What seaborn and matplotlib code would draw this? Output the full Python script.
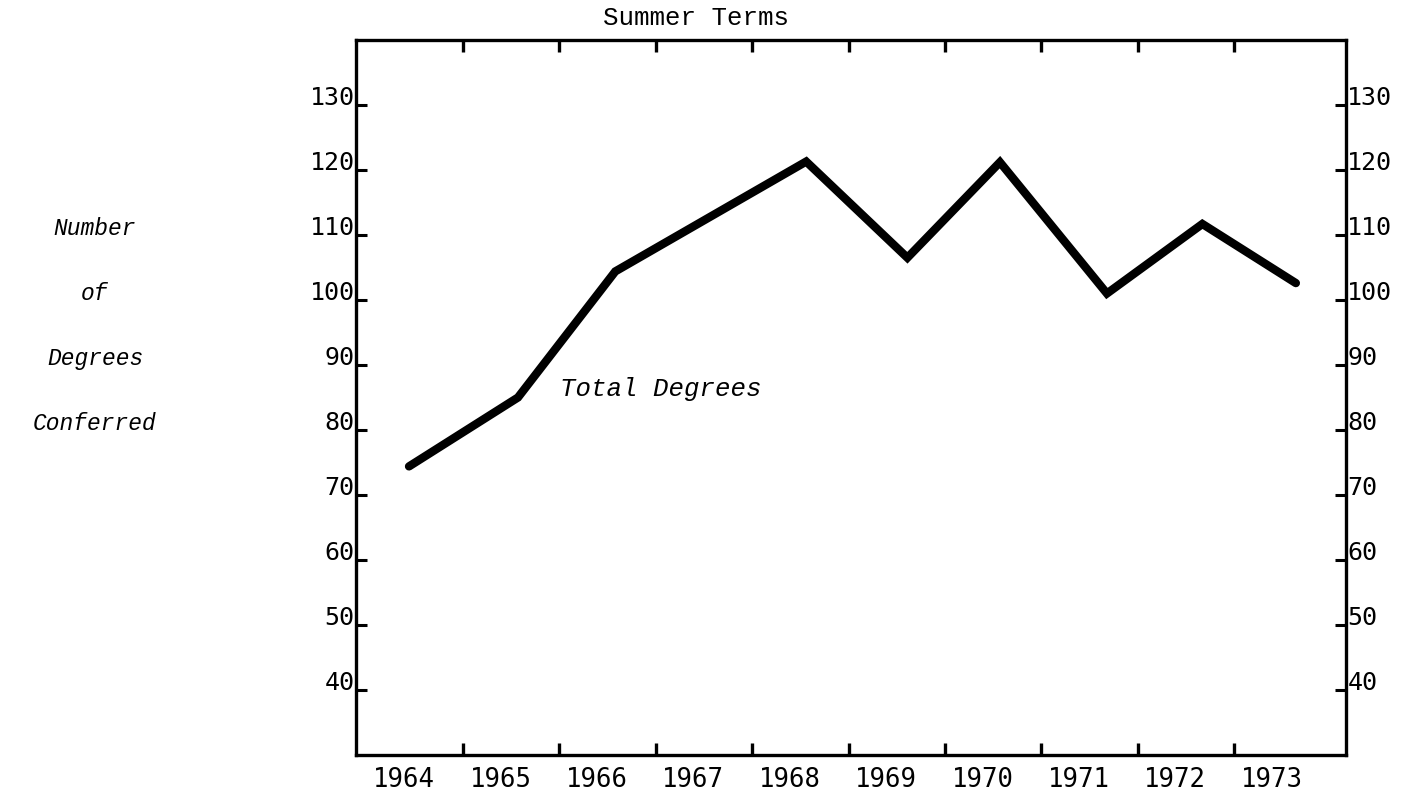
import matplotlib
matplotlib.use("Agg")
import matplotlib.pyplot as plt
from matplotlib.ticker import NullLocator
import seaborn as sns
import pandas as pd

# ---- data ----
years = [1964, 1965, 1966, 1967, 1968, 1969, 1970, 1971, 1972, 1973]
year_labels = ["1964", "1965", "1966", "1967", "1968", "1969", "1970", "1971", "1972", "1973"]
point_x = [1964.05, 1965.18, 1966.19, 1968.17, 1969.22, 1970.18, 1971.29, 1972.28, 1973.25]
total_degrees = [74.4, 85.0, 104.4, 121.3, 106.5, 121.2, 101.0, 111.7, 102.6]
y_ticks = [40, 50, 60, 70, 80, 90, 100, 110, 120, 130]
y_tick_labels = ["40", "50", "60", "70", "80", "90", "100", "110", "120", "130"]
ylabel_words = ["Number", "of", "Degrees", "Conferred"]
ylabel_rows = [110, 100, 90, 80]
title_text = "Summer Terms"
series_label = "Total Degrees"

sns.set_theme(style="white")
plt.rcParams["font.family"] = ["DejaVu Sans Mono", "DejaVu Sans"]

W, H = 1412, 791
fig = plt.figure(figsize=(W / 100, H / 100), dpi=100)
fig.patch.set_facecolor("white")
ax = fig.add_axes([356 / W, 1 - 755 / H, (1346 - 356) / W, (755 - 40) / H])
ax.set_facecolor("white")

df = pd.DataFrame({"year": point_x, "degrees": total_degrees})
sns.lineplot(data=df, x="year", y="degrees", ax=ax, color="black",
             linewidth=6.0, sort=False, solid_capstyle="round",
             solid_joinstyle="miter", estimator=None)

ax.set_xlim(1963.5, 1973.77)
ax.set_ylim(30, 140)
ax.set_xlabel("")
ax.set_ylabel("")

for s in ax.spines.values():
    s.set_visible(True)
    s.set_color("black")
    s.set_linewidth(2.4)

# x axis: labels at years, tick marks at year separators
ax.set_xticks(years)
ax.set_xticklabels(year_labels)
ax.tick_params(axis="x", which="major", length=0, pad=8.5, labelsize=18.5,
               colors="black")
boundaries = [y + 0.61 for y in years[:-1]]
ax.set_xticks(boundaries, minor=True)
ax.tick_params(axis="x", which="minor", direction="in", length=8.5, width=2.4,
               bottom=True, top=True, color="black")

# y axis, labelled on both sides
ax.set_yticks(y_ticks)
ax.set_yticklabels(y_tick_labels)
ax.yaxis.set_minor_locator(NullLocator())
ax.tick_params(axis="y", which="major", direction="in", length=8, width=2.2,
               left=True, right=True, labelleft=True, labelright=True,
               pad=1, labelsize=18, colors="black")
for t in ax.yaxis.get_major_ticks():
    t.label1.set_va("baseline")
    t.label2.set_va("baseline")

# texts
fig.text(696 / W, 1 - 18 / H, title_text, family="Liberation Mono",
         fontsize=18.5, ha="center", va="center", color="black")
fig.text(560 / W, 1 - 396 / H, series_label, family="Liberation Mono",
         style="italic", fontsize=18.5, ha="left", va="baseline", color="black")
for word, row in zip(ylabel_words, ylabel_rows):
    ypix = ax.transData.transform((1964, row))[1]
    fig.text(95 / W, ypix / H, word, family="Liberation Mono", style="italic",
             fontsize=16.5, ha="center", va="baseline", color="black")

fig.savefig("out.png", dpi=100, facecolor="white")
